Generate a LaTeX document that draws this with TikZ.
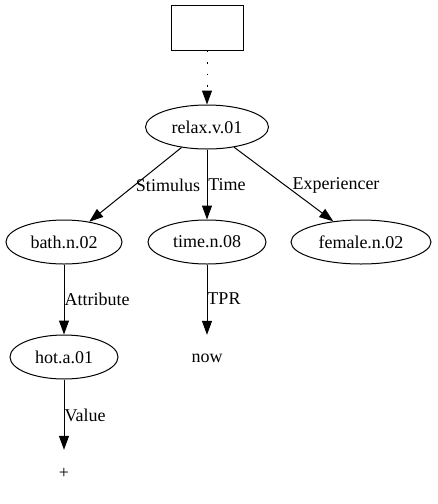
\documentclass[tikz,border=0pt]{standalone}
\usepackage{fontspec}
\setmainfont{Liberation Serif}
\usepackage{tikz}
\usetikzlibrary{shapes.geometric, arrows.meta, positioning}

\begin{document}
\begin{tikzpicture}[
  x=1pt, y=-1pt,
  font=\fontsize{18}{20}\selectfont,
  snode/.style={draw, ellipse, inner sep=0pt, minimum height=44pt, line width=1pt},
  rootbox/.style={draw, rectangle, inner sep=0pt, minimum width=72pt, minimum height=45pt, line width=1pt},
  leaf/.style={inner sep=0pt, minimum width=54pt, minimum height=46pt},
  arr/.style={-{Triangle[length=14pt, width=10pt]}, line width=1pt},
  elabel/.style={inner sep=1pt}
]
  \useasboundingbox (0,0) rectangle (438,504);

  \node[rootbox] (root) at (207, 27.5) {};
  \node[snode, minimum width=123pt] (relax) at (207, 127) {relax.v.01};
  \node[snode, minimum width=116pt] (bath) at (64, 242) {bath.n.02};
  \node[snode, minimum width=118pt] (time) at (207, 242) {time.n.08};
  \node[snode, minimum width=140pt] (female) at (361, 242) {female.n.02};
  \node[snode, minimum width=108pt] (hot) at (64, 357) {hot.a.01};
  \node[leaf] (now) at (207, 358) {now};
  \node[leaf] (plus) at (64, 473) {+};

  \draw[arr, dash pattern=on 1.5pt off 10pt] (root) -- (relax);
  \draw[arr] (relax) -- (bath);
  \draw[arr] (relax) -- (time);
  \draw[arr] (relax) -- (female);
  \draw[arr] (bath) -- (hot);
  \draw[arr] (time) -- (now);
  \draw[arr] (hot) -- (plus);

  % edge labels
  \node[elabel] (lstim) at (168, 185) {Stimulus};
  \node[elabel] (ltime) at (227, 185) {Time};
  \node[elabel] (lexp) at (336, 185) {Experiencer};
  \node[elabel] (lattr) at (97, 299) {Attribute};
  \node[elabel] (ltpr) at (224, 299) {TPR};
  \node[elabel] (lval) at (85, 415) {Value};
\end{tikzpicture}
\end{document}
